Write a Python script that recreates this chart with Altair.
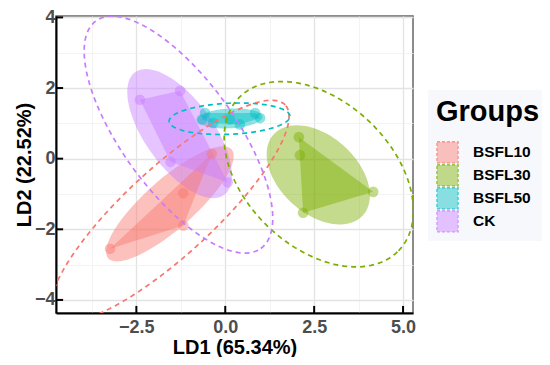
import altair as alt
import numpy as np
import pandas as pd

FONT = "Liberation Sans"

groups = ["BSFL10", "BSFL30", "BSFL50", "CK"]
palette = ["#F8766D", "#7CAE00", "#00BFC4", "#C77CFF"]
key_fill = ["#FAA7A1", "#AACA59", "#59D4D7", "#DBAAFF"]

# LDA sample scores
pt_group = ["BSFL10"] * 4 + ["BSFL30"] * 4 + ["BSFL50"] * 7 + ["CK"] * 4
pt_ld1 = [-3.24, -1.18, -1.18, -0.38,
          2.07, 2.10, 4.16, 2.19,
          -0.57, -0.66, -0.34, 0.13, 0.41, 0.84, 0.98,
          -2.40, -1.27, -1.54, 0.07]
pt_ld2 = [-2.55, -0.98, -1.89, 0.14,
          0.61, 0.10, -0.94, -1.53,
          1.29, 1.11, 1.01, 1.11, 0.97, 1.29, 1.15,
          1.67, 1.92, -0.09, -0.67]

# filled (mark) ellipses: centre, semi-axes, angle (deg)
fe_cx = [-1.556, 2.616, 0.13, -1.285]
fe_cy = [-1.28, -0.458, 1.14, 0.71]
fe_a = [2.32, 1.70, 0.92, 2.14]
fe_b = [0.70, 1.09, 0.28, 0.96]
fe_angle = [41.7, -42.7, 3.0, -54.4]

# dashed confidence ellipses
de_cx = [-1.556, 2.63, 0.12, -1.316]
de_cy = [-1.483, -0.44, 1.13, 0.68]
de_a = [4.42, 3.12, 1.70, 3.97]
de_b = [1.24, 2.06, 0.44, 1.59]
de_angle = [42.8, -44.0, 2.5, -54.3]

x_domain = [-4.76, 5.28]
y_domain = [-4.37, 4.04]
x_ticks = [-3.75, -2.5, -1.25, 0.0, 1.25, 2.5, 3.75, 5.0]
y_ticks = [-4, -3, -2, -1, 0, 1, 2, 3, 4]
x_major_ticks = [-2.5, 0.0, 2.5, 5.0]
y_major_ticks = [-4, -2, 0, 2, 4]
tick_len_x = 0.2   # inward tick length in LD1 units
tick_len_y = 0.2   # inward tick length in LD2 units


def ellipse_df(cx, cy, a, b, ang, n=120):
    rows = []
    t = np.linspace(0, 2 * np.pi, n, endpoint=False)
    for g, x0, y0, aa, bb, th in zip(groups, cx, cy, a, b, ang):
        r = np.deg2rad(th)
        xs = x0 + aa * np.cos(t) * np.cos(r) - bb * np.sin(t) * np.sin(r)
        ys = y0 + aa * np.cos(t) * np.sin(r) + bb * np.sin(t) * np.cos(r)
        for i, (xx, yy) in enumerate(zip(xs, ys)):
            rows.append({"group": g, "x": xx, "y": yy, "i": i})
    return pd.DataFrame(rows)


def hull(points):
    pts = sorted(set(points))
    if len(pts) < 3:
        return pts

    def cross(o, a, b):
        return (a[0] - o[0]) * (b[1] - o[1]) - (a[1] - o[1]) * (b[0] - o[0])

    lower, upper = [], []
    for p in pts:
        while len(lower) >= 2 and cross(lower[-2], lower[-1], p) <= 0:
            lower.pop()
        lower.append(p)
    for p in reversed(pts):
        while len(upper) >= 2 and cross(upper[-2], upper[-1], p) <= 0:
            upper.pop()
        upper.append(p)
    return lower[:-1] + upper[:-1]


pts_df = pd.DataFrame({"group": pt_group, "x": pt_ld1, "y": pt_ld2})

hull_rows = []
for g in groups:
    sub = pts_df[pts_df.group == g]
    h = hull(list(zip(sub.x, sub.y)))
    for i, (xx, yy) in enumerate(h):
        hull_rows.append({"group": g, "x": xx, "y": yy, "i": i})
hull_df = pd.DataFrame(hull_rows)

fe_df = ellipse_df(fe_cx, fe_cy, fe_a, fe_b, fe_angle)
de_df = ellipse_df(de_cx, de_cy, de_a, de_b, de_angle)
key_df = pd.DataFrame({"group": groups, "x": fe_cx, "y": fe_cy})

xt_df = pd.DataFrame({"x": x_major_ticks, "y": y_domain[0], "y2": y_domain[0] + tick_len_y})
yt_df = pd.DataFrame({"y": y_major_ticks, "x": x_domain[0], "x2": x_domain[0] + tick_len_x})

xs = alt.Scale(domain=x_domain, nice=False, zero=False)
ys = alt.Scale(domain=y_domain, nice=False, zero=False)
cscale = alt.Scale(range=palette)

x_major = "datum.value % 2.5 === 0"
y_major = "datum.value % 2 === 0"


def axis(title, values, major, fmt, lpad, tpad):
    return alt.Axis(
        title=title,
        values=values,
        labelExpr=f"{major} ? format(datum.value, '{fmt}') : ''",
        gridColor={"condition": {"test": major, "value": "#e3e3e3"}, "value": "#f0f0f0"},
        gridWidth={"condition": {"test": major, "value": 1.3}, "value": 0.8},
        ticks=False,
        labelFont=FONT, labelFontSize=18, labelFontWeight="bold", labelColor="#4d4d4d",
        titleFont=FONT, titleFontSize=20, titleFontWeight="bold", titleColor="black",
        domainColor="black", domainWidth=2,
        labelPadding=lpad, titlePadding=tpad,
    )


X = alt.X("x:Q", scale=xs, axis=axis("LD1 (65.34%)", x_ticks, x_major, ".1f", 5, 1))
Y = alt.Y("y:Q", scale=ys, axis=axis("LD2 (22.52%)", y_ticks, y_major, "d", 1, 0))
C = alt.Color("group:N", scale=cscale, legend=None)

fill_ell = alt.Chart(fe_df).mark_line(
    interpolate="linear-closed", filled=True, fillOpacity=0.45, strokeWidth=0, clip=True
).encode(x=X, y=Y, color=C, order="i:Q", detail="group:N")

hulls = alt.Chart(hull_df).mark_line(
    interpolate="linear-closed", filled=True, fillOpacity=0.45, strokeWidth=0, clip=True
).encode(x=X, y=Y, color=C, order="i:Q", detail="group:N")

points = alt.Chart(pts_df).mark_circle(size=113, opacity=0.45, clip=True).encode(
    x=X, y=Y, color=C
)

dashed = alt.Chart(de_df).mark_line(
    interpolate="linear-closed", strokeDash=[5, 4], strokeWidth=1.7, clip=True
).encode(x=X, y=Y, color=C, order="i:Q", detail="group:N")

xticks = alt.Chart(xt_df).mark_rule(color="black", strokeWidth=2).encode(
    x=X, y=Y, y2="y2:Q"
)
yticks = alt.Chart(yt_df).mark_rule(color="black", strokeWidth=2).encode(
    x=X, x2="x2:Q", y=Y
)

leg = alt.Legend(
    title="Groups", orient="none", legendX=372, legendY=74,
    symbolType="square", symbolSize=441, symbolStrokeWidth=1.6, symbolDash=[3, 2],
    titleFont=FONT, titleFontSize=29, titleFontWeight="bold", titleColor="black",
    labelFont=FONT, labelFontSize=15.5, labelFontWeight="bold", labelColor="black",
    padding=8, fillColor="#f6f8fc", rowPadding=0, clipHeight=22.8,
    labelOffset=14, titlePadding=14,
)

keys = alt.Chart(key_df).mark_point(shape="square", filled=True, size=0).encode(
    x=X, y=Y,
    fill=alt.Fill("group:N", scale=alt.Scale(domain=groups, range=key_fill), legend=leg),
    stroke=alt.Stroke("group:N", scale=alt.Scale(domain=groups, range=palette), legend=leg),
)

chart = alt.layer(fill_ell, hulls, points, dashed, xticks, yticks, keys).properties(
    width=357, height=297,
    autosize=alt.AutoSizeParams(type="none"),
    padding={"left": 48, "top": 8, "right": 129, "bottom": 44},
).configure_view(stroke="#666666", strokeWidth=1.5)

chart.save("out.html", embed_options={"renderer": "svg", "actions": False})
